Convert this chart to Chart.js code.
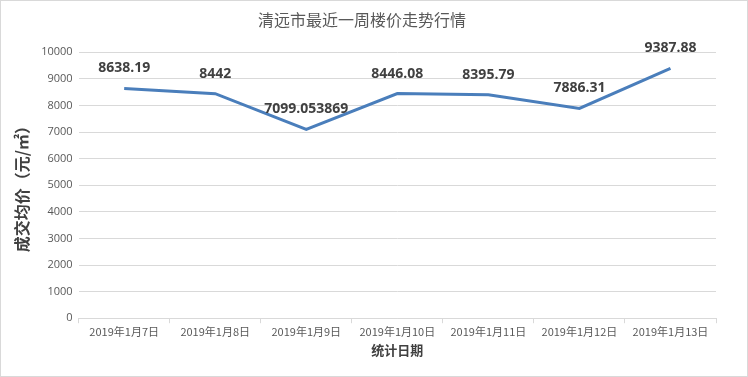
<!DOCTYPE html>
<html>
<head>
<meta charset="utf-8">
<script src="https://cdn.jsdelivr.net/npm/chart.js@4"></script>
<style>
  html, body { margin: 0; padding: 0; background: #fff; }
  #wrap { width: 748px; height: 377px; position: relative; }
</style>
</head>
<body>
<div id="wrap"><canvas id="priceChart"></canvas></div>
<script>
  // chart data
  const dates = ['2019年1月7日', '2019年1月8日', '2019年1月9日', '2019年1月10日', '2019年1月11日', '2019年1月12日', '2019年1月13日'];
  const prices = [8638.19, 8442, 7099.053869, 8446.08, 8395.79, 7886.31, 9387.88];
  const priceLabels = ['8638.19', '8442', '7099.053869', '8446.08', '8395.79', '7886.31', '9387.88'];

  // white background + thin frame, like the exported picture
  const frame = {
    id: 'frame',
    beforeDraw(chart) {
      const ctx = chart.ctx;
      ctx.save();
      ctx.fillStyle = '#ffffff';
      ctx.fillRect(0, 0, chart.width, chart.height);
      ctx.strokeStyle = '#d9d9d9';
      ctx.lineWidth = 1;
      ctx.strokeRect(0.5, 0.5, chart.width - 1, chart.height - 1);
      ctx.restore();
    }
  };

  // value labels above each point
  const valueLabels = {
    id: 'valueLabels',
    afterDatasetsDraw(chart) {
      const ctx = chart.ctx;
      const meta = chart.getDatasetMeta(0);
      ctx.save();
      ctx.font = 'bold 14px "Open Sans", sans-serif';
      ctx.fillStyle = '#404040';
      ctx.textAlign = 'center';
      ctx.textBaseline = 'middle';
      meta.data.forEach((pt, i) => {
        ctx.fillText(priceLabels[i], pt.x, pt.y - 20);
      });
      ctx.restore();
    }
  };

  const ctx = document.getElementById('priceChart').getContext('2d');
  new Chart(ctx, {
    type: 'line',
    data: {
      labels: dates,
      datasets: [{
        label: '成交均价',
        data: prices,
        borderColor: '#4a7ebb',
        borderWidth: 3,
        pointRadius: 0,
        tension: 0,
        fill: false
      }]
    },
    options: {
      responsive: true,
      maintainAspectRatio: false,
      animation: false,
      layout: { padding: { left: 8, right: 32, top: 4, bottom: 15 } },
      plugins: {
        legend: { display: false },
        tooltip: { enabled: false },
        title: {
          display: true,
          text: '清远市最近一周楼价走势行情',
          color: '#595959',
          font: { family: '"Noto Sans CJK SC", sans-serif', size: 16, weight: 'normal' },
          padding: { top: 6, bottom: 23 }
        }
      },
      scales: {
        y: {
          min: 0,
          max: 10000,
          ticks: {
            stepSize: 1000,
            color: '#595959',
            font: { family: '"Open Sans", sans-serif', size: 11 },
            padding: 6,
            callback: v => String(v)
          },
          grid: { color: '#d9d9d9', drawTicks: false },
          border: { display: false },
          title: {
            display: true,
            text: '成交均价（元/㎡）',
            color: '#404040',
            font: { family: '"Noto Sans CJK SC", sans-serif', size: 16, weight: 'bold' },
            padding: { bottom: 4 }
          }
        },
        x: {
          offset: true,
          ticks: {
            color: '#595959',
            font: { family: '"Noto Sans CJK SC", sans-serif', size: 11 },
            maxRotation: 0,
            padding: 2
          },
          grid: { offset: true, drawOnChartArea: false, color: '#d9d9d9', tickLength: 5 },
          border: { color: '#d9d9d9' },
          title: {
            display: true,
            text: '统计日期',
            color: '#404040',
            font: { family: '"Noto Sans CJK SC", sans-serif', size: 13, weight: 'bold' },
            padding: { top: 2 }
          }
        }
      }
    },
    plugins: [frame, valueLabels]
  });
</script>
</body>
</html>
